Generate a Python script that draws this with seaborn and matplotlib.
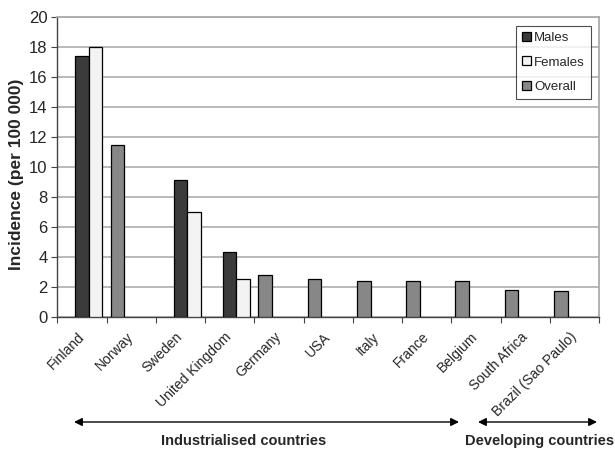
import numpy as np
import pandas as pd
import seaborn as sns
import matplotlib.pyplot as plt
from matplotlib.patches import Patch

countries = ["Finland", "Norway", "Sweden", "United Kingdom", "Germany", "USA",
             "Italy", "France", "Belgium", "South Africa", "Brazil (Sao Paulo)"]
males = [17.4, np.nan, 9.1, 4.3, np.nan, np.nan, np.nan, np.nan, np.nan, np.nan, np.nan]
females = [18.0, np.nan, 7.0, 2.5, np.nan, np.nan, np.nan, np.nan, np.nan, np.nan, np.nan]
overall = [np.nan, 11.5, np.nan, np.nan, 2.8, 2.5, 2.4, 2.4, 2.4, 1.8, 1.7]
yticks = [0, 2, 4, 6, 8, 10, 12, 14, 16, 18, 20]

series = {"Males": males, "Females": females, "Overall": overall}
colors = {"Males": "#3b3b3b", "Females": "#f3f3f3", "Overall": "#878787"}

df = pd.concat(
    [pd.DataFrame({"country": countries, "group": name, "value": vals})
     for name, vals in series.items()],
    ignore_index=True,
)

sns.set_theme(style="white")
plt.rcParams["font.family"] = ["Liberation Sans", "DejaVu Sans"]

fig = plt.figure(figsize=(6.15, 4.5), dpi=100)
ax = fig.add_axes([57.3 / 615, 1 - 316.7 / 450, (599 - 57.3) / 615, (316.7 - 17.3) / 450])

# bar slots within each category: Overall, Males, Females
sns.barplot(data=df, x="country", y="value", hue="group",
            hue_order=["Overall", "Males", "Females"], order=countries,
            palette=colors, width=0.83, gap=0, edgecolor="black", linewidth=0.9,
            ax=ax, legend=False, zorder=3)

ax.set_ylim(0, 20)
ax.set_xlim(-0.5, len(countries) - 0.5)
ax.set_yticks(yticks)
ax.set_yticklabels([str(t) for t in yticks], fontsize=12)
ax.yaxis.grid(True, color="#b4b4b4", linewidth=1.3, zorder=0)
ax.xaxis.grid(False)
ax.set_axisbelow(True)
ax.tick_params(axis="y", which="major", left=True, length=4, width=0.8,
               color="#444444", pad=3)

# category labels at centres, tick marks at category boundaries
ax.set_xticks(range(len(countries)))
ax.set_xticklabels(countries, rotation=45, ha="right", va="center",
                   rotation_mode="anchor", fontsize=10)
ax.tick_params(axis="x", which="major", length=0, pad=13)
ax.set_xticks(np.arange(-0.5, len(countries)), minor=True)
ax.tick_params(axis="x", which="minor", bottom=True, length=4, width=0.8, color="#444444")
ax.set_xlabel("")
ax.set_ylabel("Incidence (per 100 000)", fontsize=12.5, fontweight="bold", va="center")
ax.yaxis.set_label_coords(-0.0744, 0.477)

for side in ["left", "bottom"]:
    ax.spines[side].set_color("#444444")
    ax.spines[side].set_linewidth(1.0)
for side in ["top", "right"]:
    ax.spines[side].set_color("#aaaaaa")
    ax.spines[side].set_linewidth(1.3)
    ax.spines[side].set_visible(True)

handles = [Patch(facecolor=colors[k], edgecolor="black", linewidth=0.9, label=k)
           for k in ["Males", "Females", "Overall"]]
leg = ax.legend(handles=handles, loc="upper right", bbox_to_anchor=(0.9847, 0.971),
                borderaxespad=0, fancybox=False, frameon=True, fontsize=9.5,
                handlelength=0.65, handleheight=0.65, handletextpad=0.25,
                labelspacing=0.95, borderpad=0.45)
leg.get_frame().set_edgecolor("#222222")
leg.get_frame().set_linewidth(0.8)

# region brackets under the category labels
arrow_kw = dict(arrowstyle="<|-|>", color="black", lw=1.0, mutation_scale=12,
                shrinkA=0, shrinkB=0)
ax.annotate("", xy=(459 / 615, 28 / 450), xytext=(74 / 615, 28 / 450),
            xycoords="figure fraction", textcoords="figure fraction",
            arrowprops=arrow_kw)
ax.annotate("", xy=(597 / 615, 28 / 450), xytext=(478 / 615, 28 / 450),
            xycoords="figure fraction", textcoords="figure fraction",
            arrowprops=arrow_kw)
fig.text(244 / 615, 9 / 450, "Industrialised countries", ha="center", va="center",
         fontsize=10.5, fontweight="bold")
fig.text(540 / 615, 9 / 450, "Developing countries", ha="center", va="center",
         fontsize=10.5, fontweight="bold")

fig.savefig("out.png", dpi=100)
